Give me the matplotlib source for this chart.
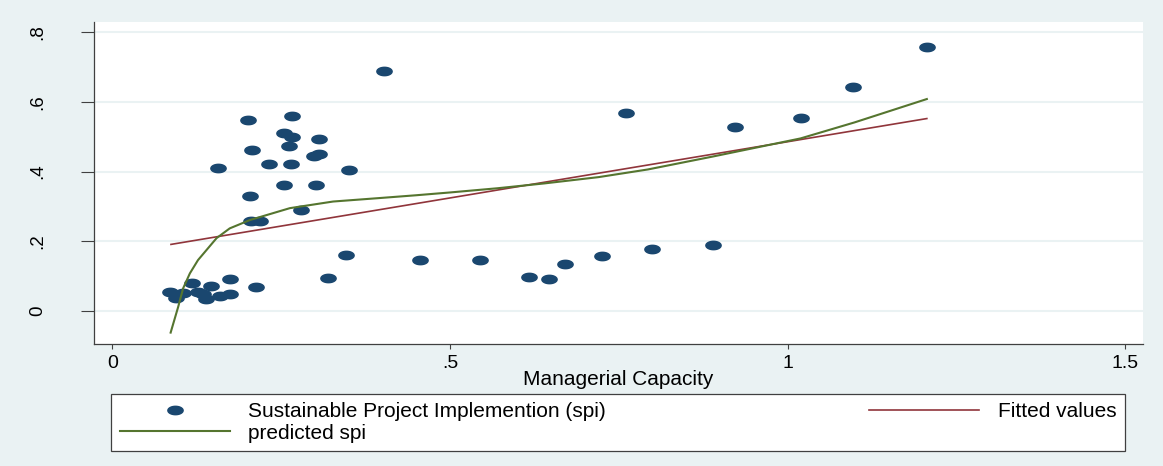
import numpy as np
import matplotlib.pyplot as plt
from matplotlib.path import Path

plt.rcParams['font.family'] = ['Liberation Sans', 'DejaVu Sans']

# observed: managerial capacity vs sustainable project implementation
cap = [0.201, 0.266, 0.255, 0.266, 0.306, 0.207, 0.261, 0.298, 0.306, 0.157,
       0.232, 0.265, 0.351, 0.254, 0.302, 0.204, 0.279, 0.206, 0.219, 0.346,
       0.320, 0.213, 0.085, 0.094, 0.105, 0.118, 0.127, 0.135, 0.139, 0.146,
       0.159, 0.174, 0.174, 0.402, 0.456, 0.544, 0.617, 0.647, 0.671, 0.725,
       0.799, 0.889, 0.761, 0.922, 1.019, 1.097, 1.206]
spi = [0.548, 0.560, 0.512, 0.500, 0.494, 0.461, 0.473, 0.445, 0.450, 0.411,
       0.422, 0.422, 0.405, 0.362, 0.362, 0.331, 0.290, 0.259, 0.259, 0.161,
       0.094, 0.069, 0.054, 0.038, 0.051, 0.079, 0.055, 0.049, 0.034, 0.073,
       0.044, 0.091, 0.049, 0.687, 0.146, 0.146, 0.098, 0.093, 0.135, 0.158,
       0.179, 0.190, 0.568, 0.529, 0.555, 0.642, 0.756]

# linear fit
fit_x = [0.087, 1.206]
fit_y = [0.191, 0.552]

# predicted spi
pred_x = [0.0865, 0.0977, 0.105, 0.115, 0.127, 0.1545, 0.174, 0.204, 0.263,
          0.327, 0.396, 0.45, 0.50, 0.570, 0.640, 0.720, 0.793, 0.889, 1.019,
          1.099, 1.206]
pred_y = [-0.062, 0.012, 0.065, 0.108, 0.146, 0.209, 0.237, 0.261, 0.295,
          0.314, 0.324, 0.332, 0.340, 0.352, 0.366, 0.384, 0.406, 0.443, 0.495,
          0.541, 0.608]

bg = '#eaf2f3'
navy = '#1a476f'
maroon = '#90353b'
green = '#55752f'

t = np.linspace(0, 2 * np.pi, 41)
ellipse = Path(np.column_stack([np.cos(t), 0.55 * np.sin(t)]), closed=True)

fig = plt.figure(figsize=(11.63, 4.66), dpi=100, facecolor=bg)
ax = fig.add_axes([0.0808, 0.2618, 0.9020, 0.6910])
ax.set_facecolor('white')

sc, = ax.plot(cap, spi, ls='', marker=ellipse, ms=11, color=navy, mec=navy,
              label='Sustainable Project Implemention (spi)', zorder=3)
fl, = ax.plot(fit_x, fit_y, color=maroon, lw=1.2, label='Fitted values', zorder=4)
pl, = ax.plot(pred_x, pred_y, color=green, lw=1.5, label='predicted spi', zorder=5)

ax.set_xlim(-0.027, 1.526)
ax.set_ylim(-0.0947, 0.829)

ax.set_yticks([0, 0.2, 0.4, 0.6, 0.8])
ax.set_yticklabels(['0', '.2', '.4', '.6', '.8'])
ax.set_xticks([0, 0.5, 1, 1.5])
ax.set_xticklabels(['0', '.5', '1', '1.5'])
ax.tick_params(axis='y', length=9.4, pad=25, labelsize=13.5, labelrotation=90,
               color='#404040')
ax.tick_params(axis='x', length=3.6, pad=4, labelsize=14, color='#404040')
for lab in ax.get_yticklabels():
    lab.set_va('center')

ax.grid(axis='y', color=bg, lw=1.5)
ax.set_axisbelow(True)
for s in ['top', 'right']:
    ax.spines[s].set_visible(False)
for s in ['left', 'bottom']:
    ax.spines[s].set_color('#404040')
    ax.spines[s].set_linewidth(0.9)

ax.set_xlabel('Managerial Capacity', fontsize=15, labelpad=-1)

leg = fig.legend(handles=[sc, pl, fl], ncol=2, mode='expand', loc='center',
                 bbox_to_anchor=(0.0954, 0.0365, 0.8719, 0.1137),
                 bbox_transform=fig.transFigure, fontsize=15, numpoints=1,
                 handlelength=5.3, handletextpad=0.87, borderpad=0.42,
                 labelspacing=0.1, borderaxespad=0, fancybox=False,
                 framealpha=1, edgecolor='#404040')
leg.get_frame().set_linewidth(0.9)

fig.savefig('out.png', dpi=100, facecolor=bg)
